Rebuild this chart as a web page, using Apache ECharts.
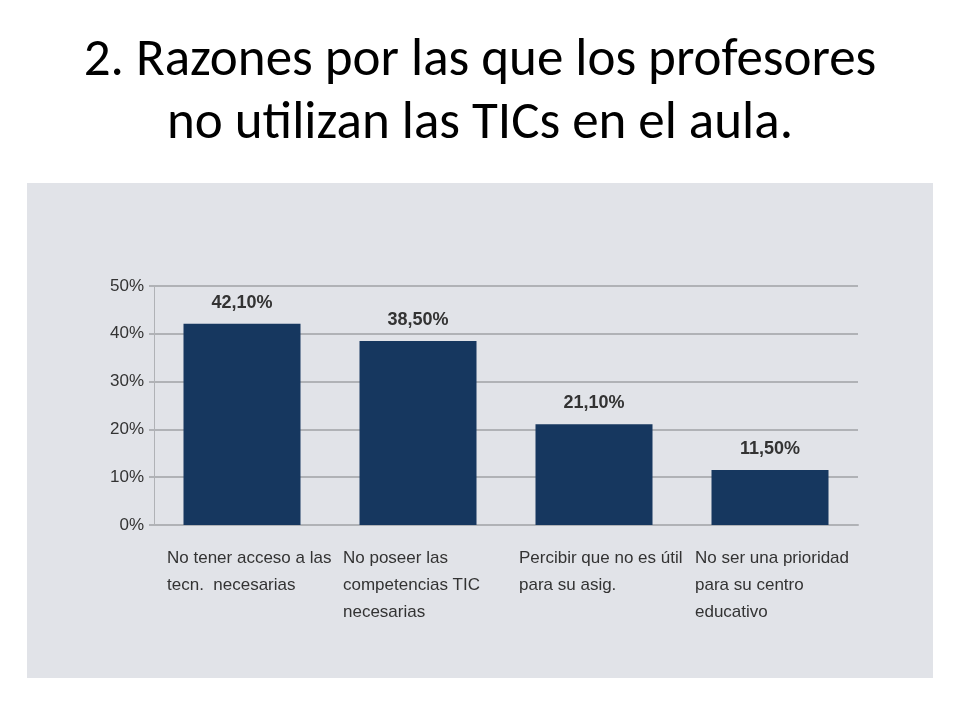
<!DOCTYPE html>
<html>
<head>
<meta charset="utf-8">
<script src="https://cdn.jsdelivr.net/npm/echarts@6/dist/echarts.min.js"></script>
<style>
html,body{margin:0;padding:0;background:#ffffff;}
#chart{width:960px;height:720px;}
</style>
</head>
<body>
<div id="chart"></div>
<script>
const titleLines = ['2. Razones por las que los profesores', 'no utilizan las TICs en el aula.'];
const categories = [
  'No tener acceso a las\ntecn.  necesarias',
  'No poseer las\ncompetencias TIC\nnecesarias',
  'Percibir que no es útil\npara su asig.',
  'No ser una prioridad\npara su centro\neducativo'
];
const values = [42.1, 38.5, 21.1, 11.5];
const valueLabels = ['42,10%', '38,50%', '21,10%', '11,50%'];
const yTicks = [0, 10, 20, 30, 40, 50];

const sans = "'Liberation Sans', Arial, sans-serif";
const titleFont = "Carlito, Calibri, Lato, sans-serif";
const chart = echarts.init(document.getElementById('chart'), null, {renderer: 'canvas'});
chart.setOption({
  backgroundColor: '#ffffff',
  animation: false,
  graphic: [
    {
      type: 'rect',
      z: -10,
      shape: {x: 27, y: 183, width: 906, height: 495},
      style: {fill: '#e1e3e8'}
    },
    {
      type: 'text',
      x: 480, y: 62,
      style: {
        text: titleLines[0],
        font: 'normal 53px ' + titleFont,
        fill: '#000000',
        align: 'center',
        verticalAlign: 'middle'
      }
    },
    {
      type: 'text',
      x: 480, y: 125,
      style: {
        text: titleLines[1],
        font: 'normal 53px ' + titleFont,
        fill: '#000000',
        align: 'center',
        verticalAlign: 'middle'
      }
    }
  ],
  grid: {left: 154, right: 102, top: 286, bottom: 195, containLabel: false},
  xAxis: {
    type: 'category',
    data: categories,
    axisLine: {show: true, lineStyle: {color: '#b0b2b6', width: 2}},
    axisTick: {show: false},
    axisLabel: {
      margin: 20,
      interval: 0,
      align: 'center',
      formatter: function (v) { return '{a|' + v + '}'; },
      rich: {
        a: {
          width: 150,
          align: 'left',
          fontFamily: sans,
          fontSize: 17,
          lineHeight: 27,
          color: '#333333'
        }
      }
    }
  },
  yAxis: {
    type: 'value',
    min: yTicks[0],
    max: yTicks[yTicks.length - 1],
    interval: 10,
    axisLine: {show: true, lineStyle: {color: '#b0b2b6', width: 1}},
    axisTick: {show: true, length: 5, lineStyle: {color: '#b0b2b6', width: 2}},
    splitLine: {show: true, lineStyle: {color: '#b0b2b6', width: 2}},
    axisLabel: {
      margin: 10,
      formatter: '{value}%',
      fontFamily: sans,
      fontSize: 17,
      color: '#333333'
    }
  },
  series: [{
    type: 'bar',
    data: values,
    barWidth: 117,
    itemStyle: {color: '#16375f'},
    label: {
      show: true,
      position: 'top',
      distance: 12,
      formatter: function (p) { return valueLabels[p.dataIndex]; },
      fontFamily: sans,
      fontSize: 18,
      fontWeight: 'bold',
      color: '#333333'
    }
  }]
});
</script>
</body>
</html>
